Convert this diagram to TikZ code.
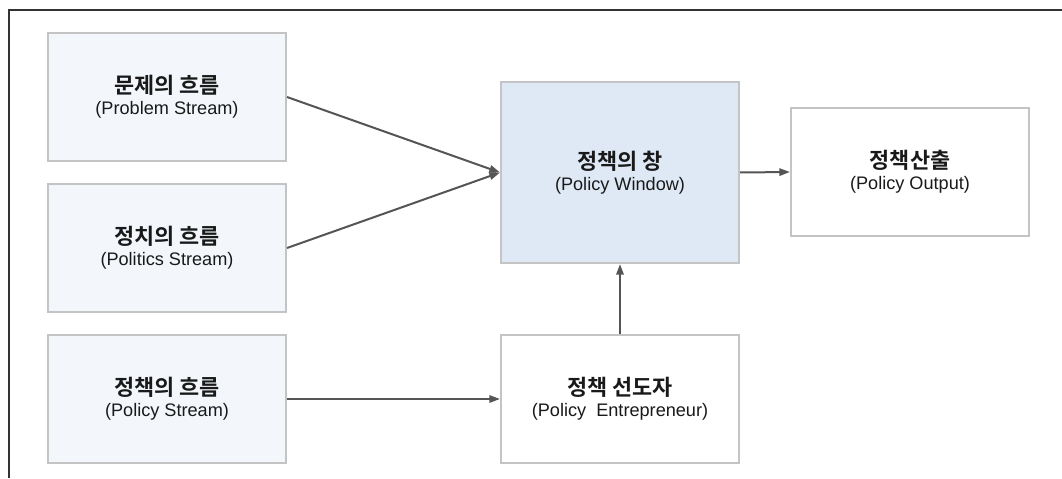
\documentclass[tikz,border=0pt]{standalone}
\usepackage{fontspec}
\setmainfont{Liberation Sans}
\newfontfamily\krb{Noto Sans CJK KR Bold}
\usetikzlibrary{arrows.meta}

\definecolor{edgegray}{HTML}{C4C4C4}
\definecolor{arrowgray}{HTML}{555555}
\definecolor{streamfill}{HTML}{F3F7FC}
\definecolor{windowfill}{HTML}{DEE9F5}

\newcommand{\boxtext}[2]{{\krb\fontsize{16.4}{18}\selectfont #1}\\[4pt]{\fontsize{13.6}{16}\selectfont #2}}

\tikzset{
  box/.style={draw=edgegray, line width=1.5pt, minimum width=178.5pt, minimum height=96pt,
    align=center, text=black!90, inner sep=0pt},
  stream/.style={box, fill=streamfill},
  link/.style={draw=arrowgray, line width=1.5pt, -{Triangle[length=8pt,width=5.5pt]}}
}

\begin{document}
\begin{tikzpicture}[x=0.75pt, y=-0.75pt]
    \useasboundingbox (0,0) rectangle (1062,478);
    \draw[line width=1.5pt, black!80] (9,478) -- (9,10) -- (1062,10);

    \node[stream] (prob) at (167,97) {\boxtext{문제의 흐름}{(Problem Stream)}};
    \node[stream] (polit) at (167,248) {\boxtext{정치의 흐름}{(Politics Stream)}};
    \node[stream] (polst) at (167,399) {\boxtext{정책의 흐름}{(Policy Stream)}};
    \node[box, fill=windowfill, minimum height=135.75pt] (win) at (620,172.5) {\boxtext{정책의 창}{(Policy Window)}};
    \node[box, fill=white] (entre) at (620,399) {\boxtext{정책 선도자}{(Policy\ \ Entrepreneur)}};
    \node[box, fill=white] (out) at (910,172) {\boxtext{정책산출}{(Policy Output)}};

    \draw[link] (prob.east) -- (win.west);
    \draw[link] (polit.east) -- (win.west);
    \draw[link] (polst.east) -- (entre.west);
    \draw[link] (entre.north) -- (win.south);
    \draw[link] (win.east) -- (out.west);
\end{tikzpicture}
\end{document}
